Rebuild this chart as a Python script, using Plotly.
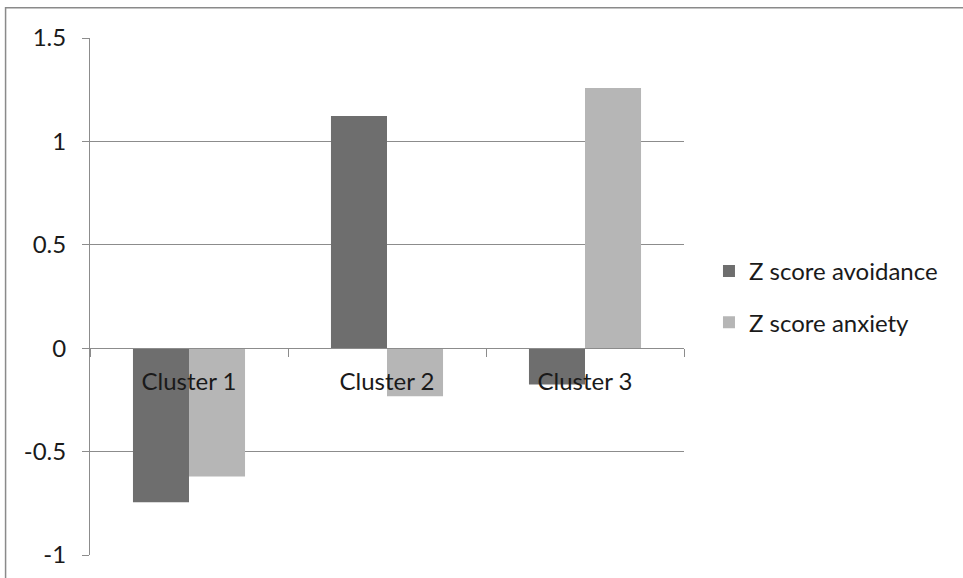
import plotly.graph_objects as go

categories = ["Cluster 1", "Cluster 2", "Cluster 3"]
avoidance = [-0.745, 1.123, -0.176]
anxiety = [-0.621, -0.232, 1.258]
series_names = ["Z score avoidance", "Z score anxiety"]
y_tickvals = [-1, -0.5, 0, 0.5, 1, 1.5]
y_ticktext = ["-1", "-0.5", "0", "0.5", "1", "1.5"]

W, H = 963, 578
L, R, T, B = 89.5, 963 - 684, 38.3, 578 - 555
pw, ph = W - L - R, H - T - B

FONT = "Lato"
FS = 24
GRID = "#8c8c8c"

fig = go.Figure()
fig.add_trace(go.Bar(x=categories, y=avoidance, name=series_names[0],
                     marker=dict(color="#6e6e6e", line=dict(width=0))))
fig.add_trace(go.Bar(x=categories, y=anxiety, name=series_names[1],
                     marker=dict(color="#b6b6b6", line=dict(width=0))))

def px_x(p):
    return (p - L) / pw

def px_y(p):
    return (H - B - p) / ph

fig.update_layout(
    width=W, height=H,
    margin=dict(l=L, r=R, t=T, b=B, autoexpand=False),
    paper_bgcolor="white", plot_bgcolor="white",
    font=dict(family=FONT, size=FS, color="#1a1a1a"),
    barmode="group", bargap=0.434, bargroupgap=0,
    showlegend=True,
    legend=dict(x=px_x(709), y=px_y(297), xanchor="left", yanchor="middle",
                font=dict(family=FONT, size=FS, color="#1a1a1a"),
                tracegroupgap=17, traceorder="grouped",
                bgcolor="rgba(0,0,0,0)"),
    xaxis=dict(anchor="free", position=(0 - (-1)) / 2.5, range=[-0.5, 2.5],
               showline=True, linecolor=GRID, linewidth=1,
               ticks="outside", ticklen=8, tickcolor=GRID, tickson="boundaries",
               showgrid=False, zeroline=False, ticklabelstandoff=12,
               tickfont=dict(family=FONT, size=FS, color="#1a1a1a")),
    yaxis=dict(range=[-1, 1.5], tickvals=y_tickvals, ticktext=y_ticktext,
               showline=True, linecolor=GRID, linewidth=1,
               ticks="outside", ticklen=7, tickcolor=GRID,
               showgrid=True, gridcolor=GRID, gridwidth=1,
               zeroline=True, zerolinecolor=GRID, zerolinewidth=1,
               ticklabelstandoff=11,
               tickfont=dict(family=FONT, size=FS, color="#1a1a1a")),
    shapes=[dict(type="rect", xref="paper", yref="paper",
                 x0=px_x(5), x1=px_x(1100), y0=px_y(700), y1=px_y(8),
                 line=dict(color="#8a8a8a", width=1.5), fillcolor="rgba(0,0,0,0)",
                 layer="below")],
)
fig.data[0].legendgroup = "a"
fig.data[1].legendgroup = "b"

fig.write_html("out.html")
